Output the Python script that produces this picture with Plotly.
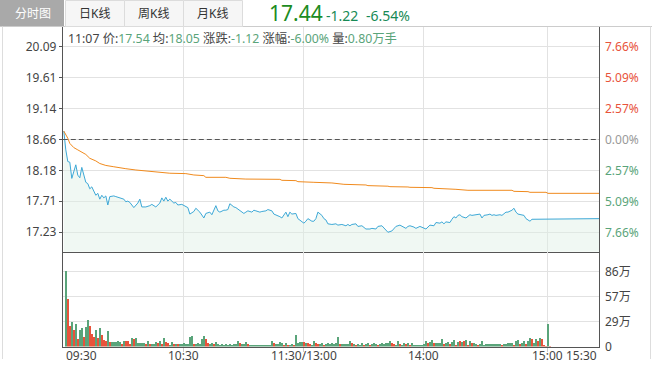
import plotly.graph_objects as go

W, H = 652, 374

# ---------------- data ----------------
prev_close = 18.66
last_price = 17.44
last_change = -1.22
last_pct = -6.54

price_idx = [0, 1, 2, 3, 4, 5, 6, 7, 8, 9,
             10, 11, 12, 13, 14, 15, 16, 17, 18, 19,
             20, 21, 22, 23, 25, 26, 28, 30, 31, 32,
             33, 35, 37, 38, 39, 41, 43, 44, 46, 48,
             49, 50, 51, 52, 53, 55, 56, 57, 59, 61,
             62, 63, 65, 66, 68, 70, 71, 73, 74, 76,
             77, 78, 80, 81, 82, 83, 85, 86, 88, 90,
             91, 92, 94, 95, 96, 98, 99, 101, 102, 104,
             105, 106, 108, 109, 111, 112, 113, 114, 116, 117,
             119, 120, 121, 122, 124, 125, 126, 127, 129, 130,
             131, 132, 134, 136, 137, 139, 141, 142, 143, 144,
             146, 147, 149, 150, 151, 153, 154, 156, 157, 159,
             160, 162, 164, 165, 166, 168, 169, 171, 172, 173,
             175, 176, 178, 180, 181, 183, 185, 186, 188, 189,
             190, 191, 193, 194, 195, 196, 197, 198, 199, 201,
             202, 203, 204, 206, 207, 208, 209, 210, 212, 213,
             214, 215, 216, 218, 219, 220, 221, 222, 223, 224,
             225, 226, 227, 228, 230, 231, 232, 233, 234, 236,
             237, 268]
price_val = [18.79, 18.50, 18.32, 18.31, 18.06, 18.16, 18.27, 18.11, 18.07, 18.23,
             18.11, 18.00, 17.98, 17.90, 17.93, 17.87, 17.80, 17.83, 17.74, 17.80,
             17.76, 17.79, 17.65, 17.78, 17.79, 17.78, 17.76, 17.74, 17.70, 17.71,
             17.69, 17.61, 17.68, 17.74, 17.62, 17.62, 17.64, 17.66, 17.62, 17.68,
             17.76, 17.71, 17.77, 17.71, 17.74, 17.68, 17.69, 17.65, 17.66, 17.62,
             17.61, 17.51, 17.55, 17.60, 17.54, 17.45, 17.52, 17.54, 17.50, 17.64,
             17.56, 17.54, 17.57, 17.57, 17.58, 17.67, 17.62, 17.61, 17.56, 17.52,
             17.54, 17.56, 17.54, 17.57, 17.56, 17.54, 17.55, 17.56, 17.58, 17.56,
             17.51, 17.50, 17.47, 17.45, 17.54, 17.47, 17.54, 17.51, 17.52, 17.44,
             17.40, 17.37, 17.40, 17.44, 17.40, 17.40, 17.44, 17.54, 17.49, 17.44,
             17.42, 17.36, 17.35, 17.36, 17.34, 17.35, 17.33, 17.35, 17.33, 17.35,
             17.36, 17.32, 17.33, 17.30, 17.28, 17.28, 17.29, 17.28, 17.32, 17.33,
             17.30, 17.23, 17.25, 17.29, 17.32, 17.34, 17.32, 17.29, 17.32, 17.33,
             17.31, 17.29, 17.32, 17.29, 17.28, 17.34, 17.33, 17.38, 17.37, 17.39,
             17.36, 17.39, 17.38, 17.43, 17.47, 17.45, 17.49, 17.50, 17.47, 17.45,
             17.47, 17.50, 17.49, 17.50, 17.51, 17.51, 17.45, 17.49, 17.50, 17.51,
             17.49, 17.50, 17.49, 17.50, 17.49, 17.51, 17.54, 17.54, 17.55, 17.57,
             17.60, 17.54, 17.51, 17.50, 17.49, 17.44, 17.42, 17.40, 17.43, 17.43,
             17.44, 17.44]

avg_idx = [0, 2, 3, 5, 7, 9, 11, 13, 16, 18,
           21, 25, 28, 31, 36, 41, 48, 53, 61, 65,
           70, 71, 81, 83, 91, 98, 108, 109, 116, 117,
           124, 125, 134, 140, 151, 152, 162, 163, 172, 173,
           184, 185, 196, 201, 202, 224, 225, 232, 233, 241,
           242, 268]
avg_val = [18.79, 18.68, 18.60, 18.535, 18.50, 18.46, 18.43, 18.37, 18.33, 18.29,
           18.26, 18.24, 18.23, 18.21, 18.19, 18.175, 18.155, 18.14, 18.134, 18.113,
           18.103, 18.077, 18.077, 18.062, 18.05, 18.046, 18.046, 18.031, 18.026, 18.01,
           18.01, 18.00, 17.99, 17.969, 17.959, 17.949, 17.94, 17.933, 17.928, 17.923,
           17.918, 17.908, 17.892, 17.887, 17.877, 17.877, 17.861, 17.856, 17.846, 17.846,
           17.83, 17.83]

# volume per minute (万), minute 1..243 ; direction u = up (red), d = down (green)
vol_val = [86, 54, 24, 28, 19, 26, 9, 19, 21, 11,
           22, 30, 24, 15, 11, 19, 10, 21, 13, 8,
           7, 18, 5, 5.4, 5.4, 5, 6.1, 5.4, 3.5, 6.1,
           6.9, 6.1, 3.1, 10, 9.2, 10, 3.8, 3.8, 3.8, 3.8,
           3.1, 6.5, 3.1, 3.5, 3.1, 5.8, 3.8, 6.1, 2.7, 10,
           5.4, 3.8, 2.3, 5, 2.7, 3.1, 2.7, 3.1, 3.5, 3.8,
           2.7, 3.1, 11.5, 12.3, 3.1, 2.7, 3.8, 2.7, 8.4, 12.3,
           9.2, 3.8, 3.1, 3.8, 3.1, 5, 2.7, 2.3, 3.1, 2.3,
           2.7, 2.3, 3.1, 2.3, 3.1, 3.5, 6.5, 3.8, 3.1, 3.1,
           5, 2.7, 1.9, 1.9, 1.9, 1.9, 1.9, 1.9, 1.9, 1.9,
           1.9, 1.9, 2.3, 6.1, 3.8, 3.1, 3.5, 5, 4.2, 1.9,
           3.8, 2.3, 2.3, 2.7, 2.3, 13.4, 4.2, 5.4, 5.4, 5.4,
           4.2, 4.2, 3.1, 1.5, 6.5, 3.8, 3.1, 2.7, 4.2, 2.3,
           3.1, 4.6, 2.7, 3.9, 2.7, 3.9, 11.6, 2.7, 2.7, 2.7,
           2.7, 2.7, 6.2, 3.9, 2.7, 1.5, 2.7, 1.5, 3.9, 1.5,
           2.7, 3.9, 1.5, 2.7, 3.9, 2.7, 1.5, 2.7, 3.9, 2.7,
           4.6, 3.9, 6.2, 3.9, 2.7, 1.5, 6.2, 2.7, 1.5, 3.9,
           2.7, 3.9, 1.5, 3.9, 1.5, 1.5, 1.5, 1.5, 1.5, 2.7,
           6.2, 3.9, 5, 7.7, 3.9, 3.9, 3.9, 3.9, 8.5, 2.7,
           3.9, 5, 2.7, 5, 7.7, 1.5, 5, 6.6, 5, 6.6,
           7.7, 1.5, 6.6, 3.9, 3.9, 2.7, 1.5, 2.7, 6.6, 1.5,
           2.7, 2.7, 2.7, 2.7, 2.7, 2.7, 2.7, 2.7, 1.5, 2.7,
           2.7, 3.9, 3.9, 3.9, 1.5, 6.6, 7.7, 2.7, 3.9, 6.6,
           2.7, 6.6, 10.5, 9.3, 3.9, 8.5, 6.6, 10.5, 8.5, 1.5,
           0.8, 26, 0.8]
vol_dir = ("d u u d u d u d d u "
           "d d u u u d u d u u "
           "u d u d d d d d u d "
           "u u u d u d d d d d "
           "u d u d d d u d u d "
           "u u d d u d u d d d "
           "d d d d u d d d d d "
           "u u d d u d d d d d "
           "d d d d d d d u d d "
           "d u d d d d d d d d "
           "d d d d u d d d d u "
           "d u d d u d d d d u "
           "d u u d d u u d d u "
           "d d d d d d d u d d "
           "d d d u d u d d d u "
           "d d u d d d u d d d "
           "d d d u u d d u d d "
           "u d u d d d d d d d "
           "d u d d u d d d d u "
           "d d u d d u d u d u "
           "d u d u d d u d d d "
           "d d d d d d d d u d "
           "d d d d u d d u d d "
           "u d d u d d u d u u "
           "u d u").split()

price_ticks = [20.09, 19.61, 19.14, 18.66, 18.18, 17.71, 17.23]
time_idx = [0, 60, 120, 180, 242, 267.5]
time_lbl = ["09:30", "10:30", "11:30/13:00", "14:00", "15:00", "15:30"]
tabs = ["分时图", "日K线", "周K线", "月K线"]

assert len(price_idx) == len(price_val)
assert len(avg_idx) == len(avg_val)
assert len(vol_dir) == len(vol_val), (len(vol_dir), len(vol_val))

# ---------------- style ----------------
FONT = "Noto Sans, Noto Sans CJK SC, sans-serif"
C_PRICE = "#3da8d6"
C_AVG = "#f08a1d"
C_FILL = "rgba(222,240,229,0.45)"
C_UP = "#e8533b"
C_DN = "#5aa47a"
C_GRID = "#e2e2e2"
C_AXIS = "#555555"
C_TXT = "#444444"

def pxx(v):
    return v / W

def pxy(v):
    return 1 - v / H

X0, X1 = 62.8, 599.0
MAIN_TOP, MAIN_BOT = 27.0, 251.7
VOL_BOT = 346.5
vmax = max(vol_val)
vol_range_top = vmax * (VOL_BOT - MAIN_BOT) / (VOL_BOT - 271.0)
y_lo, y_hi = 16.93, 20.395
x_lo, x_hi = -0.5, 267.5

fig = go.Figure()

fig.add_trace(go.Scatter(x=price_idx, y=price_val, mode="lines",
                         line=dict(color=C_PRICE, width=1),
                         fill="tozeroy", fillcolor=C_FILL,
                         xaxis="x", yaxis="y", hoverinfo="skip"))
fig.add_trace(go.Scatter(x=avg_idx, y=avg_val, mode="lines",
                         line=dict(color=C_AVG, width=1),
                         xaxis="x", yaxis="y", hoverinfo="skip"))
vol_x = list(range(1, len(vol_val) + 1))
fig.add_trace(go.Bar(x=vol_x, y=vol_val, width=0.5,
                     marker=dict(color=[C_UP if d == "u" else C_DN for d in vol_dir],
                                 line=dict(width=0)),
                     xaxis="x2", yaxis="y2", hoverinfo="skip"))

shapes = []
shapes.append(dict(type="line", xref="x", yref="y", x0=x_lo, x1=x_hi,
                   y0=prev_close, y1=prev_close,
                   line=dict(color="#555555", width=1, dash="5px,3px"), layer="above"))
shapes.append(dict(type="line", xref="paper", yref="paper", x0=0, x1=1,
                   y0=pxy(26.5), y1=pxy(26.5), line=dict(color="#cccccc", width=1)))
for fx in (2.5, 650.5):
    shapes.append(dict(type="line", xref="paper", yref="paper", x0=pxx(fx), x1=pxx(fx),
                       y0=pxy(26.5), y1=pxy(359), line=dict(color="#dddddd", width=1)))
tab_edges = [0, 65, 124, 183, 242]
for i, t in enumerate(tabs):
    a, b = tab_edges[i], tab_edges[i + 1]
    if i == 0:
        shapes.append(dict(type="rect", xref="paper", yref="paper",
                           x0=pxx(a), x1=pxx(b - 1), y0=pxy(26), y1=pxy(0),
                           fillcolor="#a9a9a9", line=dict(width=0)))
    else:
        shapes.append(dict(type="rect", xref="paper", yref="paper",
                           x0=pxx(a + 0.5), x1=pxx(b + 0.5), y0=pxy(26.5), y1=pxy(0.5),
                           fillcolor="#f6f6f6", line=dict(color="#dcdcdc", width=1)))

ann = []
for i, t in enumerate(tabs):
    a, b = tab_edges[i], tab_edges[i + 1]
    ann.append(dict(text=t, xref="paper", yref="paper", x=pxx((a + b) / 2), y=pxy(13.5),
                    showarrow=False, xanchor="center", yanchor="middle",
                    font=dict(family=FONT, size=12, color="#ffffff" if i == 0 else "#333333")))

ann.append(dict(text=f"{last_price:.2f}", xref="paper", yref="paper", x=pxx(267), y=pxy(13),
                showarrow=False, xanchor="left", yanchor="middle",
                font=dict(family=FONT, size=21, color="#1c8c22")))
ann.append(dict(text=f"{last_change:.2f}", xref="paper", yref="paper", x=pxx(324), y=pxy(15),
                showarrow=False, xanchor="left", yanchor="middle",
                font=dict(family=FONT, size=14, color="#178a55")))
ann.append(dict(text=f"{last_pct:.2f}%", xref="paper", yref="paper", x=pxx(364), y=pxy(15),
                showarrow=False, xanchor="left", yanchor="middle",
                font=dict(family=FONT, size=14, color="#178a55")))

G = C_DN
info = (f'<span style="color:#444">11:07 价:</span><span style="color:{G}">17.54</span>'
        f'<span style="color:#444"> 均:</span><span style="color:{G}">18.05</span>'
        f'<span style="color:#444"> 涨跌:</span><span style="color:{G}">-1.12</span>'
        f'<span style="color:#444"> 涨幅:</span><span style="color:{G}">-6.00%</span>'
        f'<span style="color:#444"> 量:</span><span style="color:{G}">0.80万手</span>')
ann.append(dict(text=info, xref="paper", yref="paper", x=pxx(66), y=pxy(39),
                showarrow=False, xanchor="left", yanchor="middle",
                font=dict(family=FONT, size=12.3, color="#444")))

for p in price_ticks:
    pct = (p - prev_close) / prev_close * 100
    if abs(pct) < 0.005:
        col = "#999999"
    elif pct > 0:
        col = C_UP
    else:
        col = C_DN
    ann.append(dict(text=f"{abs(pct):.2f}%", xref="paper", yref="y", x=pxx(603), y=p,
                    showarrow=False, xanchor="left", yanchor="middle",
                    font=dict(family=FONT, size=12, color=col)))

vticks = [vmax, vmax * 2 / 3, vmax / 3, 0]
for v in vticks:
    ann.append(dict(text=(f"{round(v)}万" if v > 0 else "0"), xref="paper", yref="y2",
                    x=pxx(603), y=v, showarrow=False, xanchor="left", yanchor="middle",
                    font=dict(family=FONT, size=12, color=C_TXT)))

for i, (ti, tl) in enumerate(zip(time_idx, time_lbl)):
    xa = "left" if i == 0 else ("right" if i == len(time_idx) - 1 else "center")
    ann.append(dict(text=tl, xref="x2", yref="paper", x=ti, y=pxy(355.5),
                    showarrow=False, xanchor=xa, yanchor="middle",
                    font=dict(family=FONT, size=12, color=C_TXT)))

fig.update_layout(
    width=W, height=H, autosize=False,
    margin=dict(l=0, r=0, t=0, b=0),
    paper_bgcolor="white", plot_bgcolor="white",
    showlegend=False, bargap=0,
    font=dict(family=FONT, size=12, color=C_TXT),
    shapes=shapes, annotations=ann,
    xaxis=dict(domain=[pxx(X0), pxx(X1)], range=[x_lo, x_hi], anchor="y",
               tickvals=time_idx[1:-1], showticklabels=False, ticks="",
               showgrid=True, gridcolor=C_GRID, gridwidth=1, zeroline=False,
               showline=True, linecolor=C_AXIS, linewidth=1),
    yaxis=dict(domain=[pxy(MAIN_BOT), pxy(MAIN_TOP)], range=[y_lo, y_hi], anchor="x",
               tickvals=price_ticks, ticktext=[f"{p:.2f}" for p in price_ticks],
               ticks="outside", ticklen=3, tickcolor=C_AXIS,
               tickfont=dict(family=FONT, size=12, color=C_TXT),
               showgrid=True, gridcolor=C_GRID, gridwidth=1, zeroline=False,
               showline=True, linecolor=C_AXIS, linewidth=1, mirror=True),
    xaxis2=dict(domain=[pxx(X0), pxx(X1)], range=[x_lo, x_hi], anchor="y2",
                tickvals=time_idx[1:-1], showticklabels=False,
                ticks="outside", ticklen=4, tickcolor="#cccccc",
                showgrid=True, gridcolor=C_GRID, gridwidth=1, zeroline=False,
                showline=True, linecolor=C_AXIS, linewidth=1),
    yaxis2=dict(domain=[pxy(VOL_BOT), pxy(MAIN_BOT)], range=[0, vol_range_top], anchor="x2",
                tickvals=vticks[:3], showticklabels=False, ticks="",
                showgrid=True, gridcolor=C_GRID, gridwidth=1, zeroline=False,
                showline=True, linecolor=C_AXIS, linewidth=1, mirror=True),
)

fig.write_html("out.html",
               config={"displayModeBar": False},
               post_script="document.body.style.margin='0';document.body.style.padding='0';")
